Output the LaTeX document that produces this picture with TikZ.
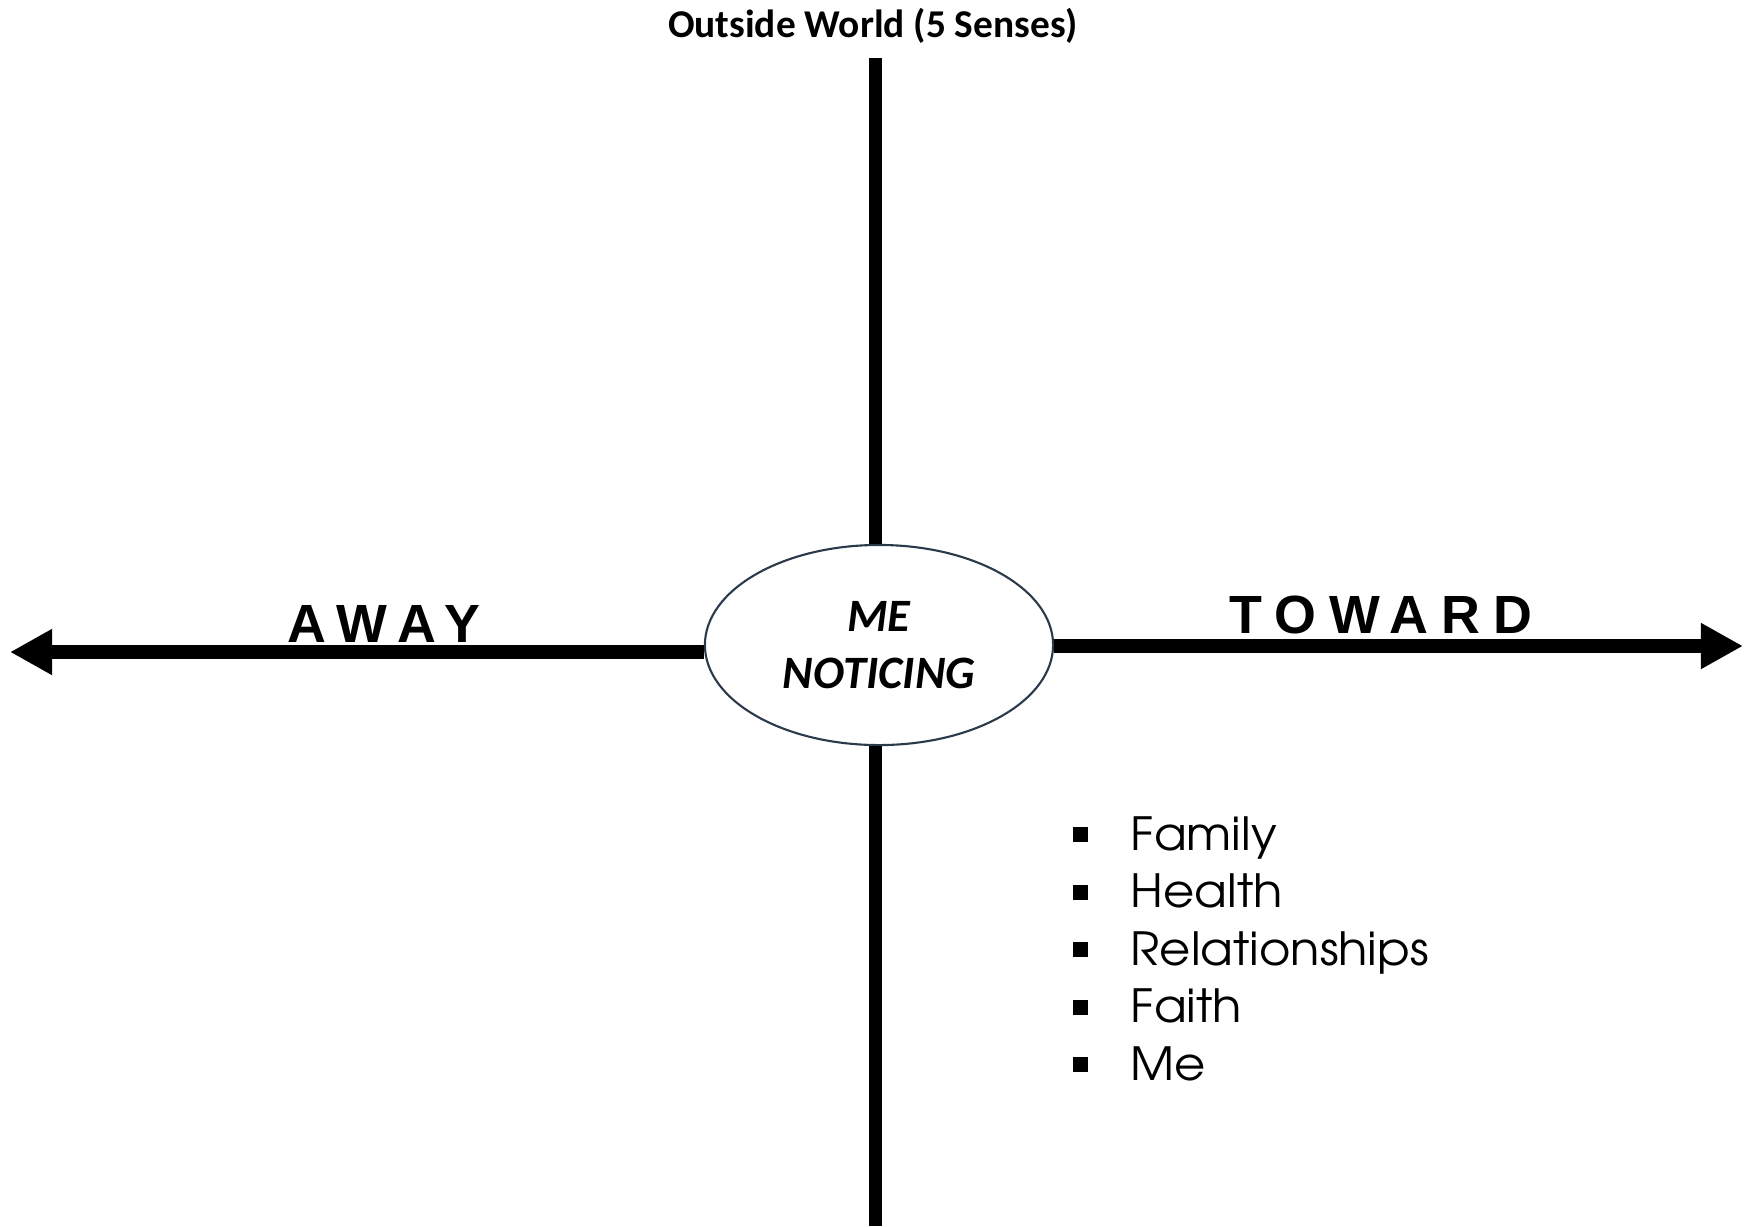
\documentclass[tikz,border=0pt]{standalone}
\usepackage{fontspec}
\usetikzlibrary{positioning,shapes.geometric,arrows.meta}
\newfontfamily\titlefont{Carlito}
\newfontfamily\axisfont[LetterSpace=24]{Liberation Sans}
\newfontfamily\valuefont[FakeStretch=1.05]{TeX Gyre Adventor}
\definecolor{ellipseNavy}{HTML}{2B3A4A}
\newcommand\valuebullet{\rule[0.08cm]{0.15cm}{0.15cm}}

\tikzset{
  axisline/.style={line width=3.9pt, black},
  axisarrow/.style={axisline, -{Triangle[length=0.42cm,width=0.43cm]}},
  axislabel/.style={font=\axisfont\bfseries\fontsize{15.3}{18}\selectfont, anchor=base west, inner sep=0pt},
}

\begin{document}
\begin{tikzpicture}[x=0.01cm, y=-0.01cm]
  \useasboundingbox (0,0) rectangle (1754,1226);
  % centre ellipse
  \node[ellipse, draw=ellipseNavy, line width=0.6pt, fill=white, minimum width=3.48cm, minimum height=2.0cm,
        inner sep=0pt, align=center, font=\titlefont\bfseries\itshape\fontsize{13.2}{16.2}\selectfont] (me) at (879,645) {ME\\NOTICING};
  \coordinate (awayTip) at (10,652);
  \coordinate (towardTip) at (1743,646);
  \coordinate (worldTop) at (875,58);
  \coordinate (worldBottom) at (875,1226);
  % axes
  \draw[axisline, line width=3.7pt] (worldTop) -- (worldTop |- me.north);
  \draw[axisline, line width=3.7pt] (worldTop |- me.south) -- (worldBottom);
  \draw[axisarrow] (me.west |- awayTip) -- (awayTip);
  \draw[axisarrow] (me.east |- towardTip) -- (towardTip);
  % labels
  \node[font=\titlefont\bfseries\fontsize{11.2}{13}\selectfont, anchor=base, inner sep=0pt] (world) at (873,37) {Outside World (5 Senses)};
  \node[axislabel] (away) at (287,642) {AWAY};
  \node[axislabel] (toward) at (1229,633) {TOWARD};
  % values list
  \node[anchor=base west, inner sep=0pt, font=\valuefont\fontsize{13}{16.36}\selectfont] (values) at (1072,850) {%
    \begin{tabular}[t]{@{}l@{\hspace{0.43cm}}l@{}}
      \valuebullet & Family\\
      \valuebullet & Health\\
      \valuebullet & Relationships\\
      \valuebullet & Faith\\
      \valuebullet & Me
    \end{tabular}};
\end{tikzpicture}
\end{document}
